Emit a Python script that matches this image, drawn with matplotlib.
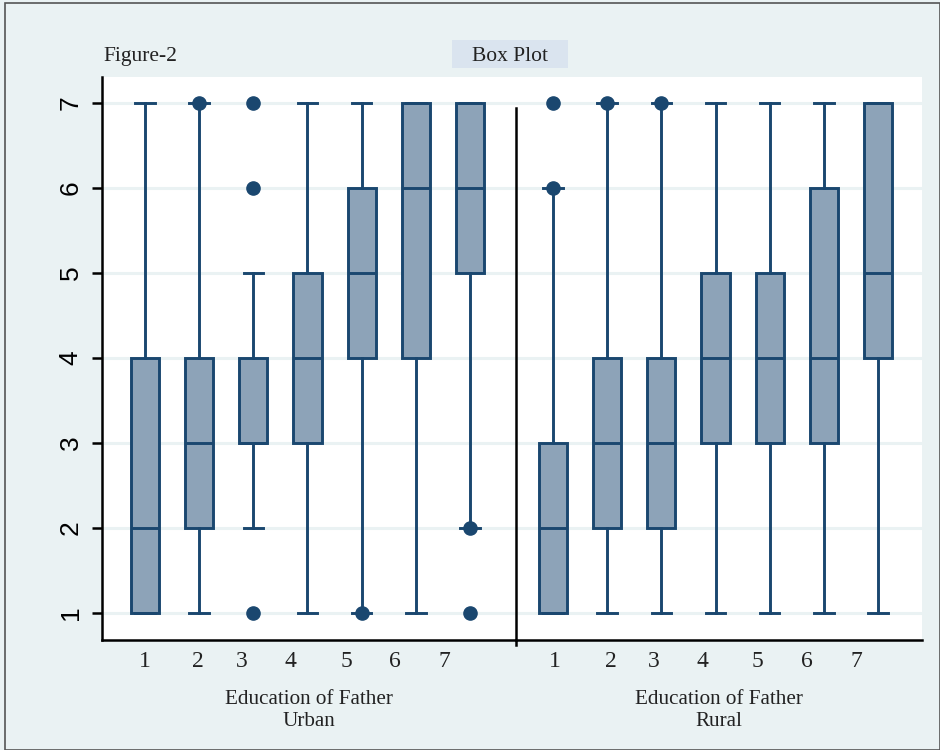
import matplotlib.pyplot as plt
from matplotlib.patches import Rectangle

# ----------------------------------------
# DATA
# ----------------------------------------
categories = ["1", "2", "3", "4", "5", "6", "7"]

urban_whislo = [1, 1, 2, 1, 1, 1, 2]
urban_q1 = [1, 2, 3, 3, 4, 4, 5]
urban_med = [2, 3, 3, 4, 5, 6, 6]
urban_q3 = [4, 4, 4, 5, 6, 7, 7]
urban_whishi = [7, 7, 5, 7, 7, 7, 7]
urban_fliers = [[], [7], [1, 6, 7], [], [1], [], [1, 2]]

rural_whislo = [1, 1, 1, 1, 1, 1, 1]
rural_q1 = [1, 2, 2, 3, 3, 3, 4]
rural_med = [2, 3, 3, 4, 4, 4, 5]
rural_q3 = [3, 4, 4, 5, 5, 6, 7]
rural_whishi = [6, 7, 7, 7, 7, 7, 7]
rural_fliers = [[6, 7], [7], [7], [], [], [], []]

y_ticks = [1, 2, 3, 4, 5, 6, 7]

# ----------------------------------------
# STYLE
# ----------------------------------------
BG = "#EAF2F3"
NAVY = "#1A476F"
FILL = "#8DA3B8"
TXT = "#222222"
SERIF = ["Liberation Serif", "DejaVu Serif"]
SANS = ["Liberation Sans", "DejaVu Sans"]
LW = 2.1

# stata puts the category labels a bit off the boxes
urban_label_pos = [1.0, 1.98, 2.79, 3.69, 4.71, 5.61, 6.53]
rural_label_pos = [1.04, 2.07, 2.86, 3.76, 4.78, 5.68, 6.60]


def make_stats(whislo, q1, med, q3, whishi, fliers):
    stats = []
    for i in range(len(med)):
        stats.append({
            "whislo": whislo[i], "q1": q1[i], "med": med[i],
            "q3": q3[i], "whishi": whishi[i], "fliers": fliers[i],
        })
    return stats


def draw_panel(ax, stats, label_pos, xlim, title):
    ax.set_facecolor("white")
    for y in y_ticks:
        ax.axhline(y, color=BG, lw=2.2, zorder=0)
    ax.bxp(
        stats,
        positions=range(1, len(stats) + 1),
        widths=0.52,
        patch_artist=True,
        boxprops=dict(facecolor=FILL, edgecolor=NAVY, linewidth=LW),
        medianprops=dict(color=NAVY, linewidth=LW),
        whiskerprops=dict(color=NAVY, linewidth=LW),
        capprops=dict(color=NAVY, linewidth=LW),
        capwidths=0.36,
        flierprops=dict(marker="o", markerfacecolor=NAVY, markeredgecolor=NAVY,
                        markersize=9.5),
        zorder=3,
    )
    ax.set_xlim(*xlim)
    ax.set_ylim(0.682, 7.306)
    ax.set_xticks(label_pos)
    ax.set_xticklabels(categories, fontsize=17, family=SERIF, color=TXT)
    ax.tick_params(axis="x", length=0, pad=8)
    ax.set_xlabel("Education of Father\n" + title, fontsize=15.2, family=SERIF,
                  color=TXT, labelpad=13, linespacing=1.2)
    for side in ["top", "right"]:
        ax.spines[side].set_visible(False)
    for side in ["left", "bottom"]:
        ax.spines[side].set_linewidth(1.8)
        ax.spines[side].set_color("black")


# ----------------------------------------
# FIGURE
# ----------------------------------------
fig = plt.figure(figsize=(9.4, 7.5), dpi=100, facecolor=BG)
fig.patches.append(Rectangle((0.005, 0.0), 0.995, 0.996, transform=fig.transFigure,
                             fill=False, edgecolor="#555555", lw=1.2))

ax1 = fig.add_axes([0.1085, 0.1467, 0.4404, 0.7507])
ax2 = fig.add_axes([0.5489, 0.1467, 0.4319, 0.7507])

draw_panel(ax1, make_stats(urban_whislo, urban_q1, urban_med, urban_q3, urban_whishi, urban_fliers),
           urban_label_pos, (0.206, 7.849), "Urban")
draw_panel(ax2, make_stats(rural_whislo, rural_q1, rural_med, rural_q3, rural_whishi, rural_fliers),
           rural_label_pos, (0.317, 7.81), "Rural")

# y axis only on the left panel
ax1.set_yticks(y_ticks)
ax1.set_yticklabels([str(v) for v in y_ticks], rotation=90, va="center",
                    fontsize=19, family=SANS)
ax1.tick_params(axis="y", length=7, width=1.8, pad=7)

ax2.set_yticks([])
ax2.spines["left"].set_bounds(0.62, 6.94)

# header texts
fig.text(0.110, 0.925, "Figure-2", fontsize=15.5, family=SERIF, color=TXT,
         va="center", ha="left")
fig.patches.append(Rectangle((0.4809, 0.9093), 0.1234, 0.0373, transform=fig.transFigure,
                             facecolor="#DAE4EF", edgecolor="none"))
fig.text(0.5426, 0.925, "Box Plot", fontsize=15.5, family=SERIF, color=TXT,
         va="center", ha="center")

fig.savefig("out.png", dpi=100, facecolor=BG)
